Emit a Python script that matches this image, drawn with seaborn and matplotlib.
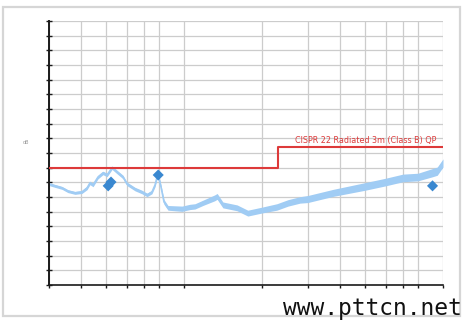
import numpy as np
import pandas as pd
import matplotlib
matplotlib.use("Agg")
import matplotlib.pyplot as plt
from matplotlib.patches import Rectangle
import seaborn as sns

# ---- data ----
freq_mhz = [30, 31.6, 33.7, 35.5, 37.8, 40.2, 42.1, 43.2, 44.4, 46.4, 48.5, 50.3,
            52.6, 55, 58, 60, 64.5, 68.6, 71.8, 75, 77.1, 79.1, 81.3, 83.5, 86.5,
            98, 105, 110, 118, 131, 134, 141, 160, 176, 201, 228, 252, 280, 300,
            376, 500, 600, 700, 800, 911, 950, 1000]
level_dbuv = [34.4, 33.8, 33.1, 32.0, 31.4, 31.7, 33.1, 34.8, 34.1, 36.8, 38.2, 37.5,
              40.0, 38.5, 36.8, 34.5, 32.7, 31.7, 30.7, 31.7, 34.1, 38.0, 33.4, 28.3, 26.3,
              26.0, 26.6, 26.8, 28.0, 29.7, 30.2, 27.3, 26.3, 24.5, 25.6, 26.6, 28.0, 29.0, 29.3,
              31.4, 33.6, 35.1, 36.5, 36.8, 38.3, 38.8, 41.6]
spread_db = [0.5, 0.5, 0.5, 0.5, 0.5, 0.5, 0.6, 0.6, 0.6, 0.6, 0.6, 0.6,
             0.6, 0.6, 0.6, 0.6, 0.6, 0.6, 0.6, 0.6, 0.6, 0.6, 0.7, 0.8, 0.8,
             0.9, 0.9, 0.9, 0.9, 1.0, 1.0, 1.0, 1.0, 1.0, 1.0, 1.1, 1.1, 1.1, 1.2,
             1.2, 1.3, 1.3, 1.3, 1.3, 1.4, 1.4, 1.4]

limit_freq = [30, 230, 1000]
limit_level = [40, 47, 47]
limit_label = "CISPR 22 Radiated 3m (Class B) QP"

peak_freq = [50.8, 52.1, 79.3, 911]
peak_level = [33.8, 35.1, 37.5, 33.8]

x_ticks = [30, 40, 50, 60, 70, 80, 100, 200, 300, 400, 500, 600, 700, 800, 1000]
y_ticks = list(range(0, 95, 5))

trace = pd.DataFrame({"freq": freq_mhz, "level": level_dbuv, "spread": spread_db})
limit = pd.DataFrame({"freq": limit_freq, "level": limit_level})
peaks = pd.DataFrame({"freq": peak_freq, "level": peak_level})

# ---- figure ----
sns.set_theme(style="white")
W, H = 468, 325
fig = plt.figure(figsize=(W / 100, H / 100), dpi=100)
fig.patch.set_facecolor("white")

# light frame around the chart
fig.patches.append(Rectangle((3 / W, 1 - 316 / H), (460 - 3) / W, (316 - 7) / H,
                             transform=fig.transFigure, fill=False,
                             edgecolor="#d6d6d6", linewidth=1.6, zorder=0))

ax = fig.add_axes([49 / W, 1 - 285 / H, (443 - 49) / W, (285 - 21) / H])
ax.set_facecolor("white")
ax.set_xscale("log")
ax.set_xlim(30, 1000)
ax.set_ylim(0, 90)
ax.set_xticks(x_ticks)
ax.set_yticks(y_ticks)
ax.xaxis.set_minor_locator(matplotlib.ticker.NullLocator())
ax.set_xticklabels([])
ax.set_yticklabels([])
ax.grid(True, color="#cccccc", linewidth=0.9, zorder=0)
ax.set_axisbelow(True)

for s in ["top", "right"]:
    ax.spines[s].set_visible(False)
ax.spines["left"].set_color("#1a1a1a")
ax.spines["left"].set_linewidth(1.4)
ax.spines["bottom"].set_color("#1a1a1a")
ax.spines["bottom"].set_linewidth(1.2)
ax.tick_params(axis="y", direction="inout", length=4, width=1.0, color="#1a1a1a", left=True)
ax.tick_params(axis="x", direction="out", length=2.5, width=1.0, color="#1a1a1a", bottom=True)

# measured trace (noise band + centre line)
trace_color = "#a0ccf4"
ax.fill_between(trace["freq"], trace["level"] - trace["spread"],
                trace["level"] + trace["spread"], color=trace_color,
                linewidth=0, zorder=2)
sns.lineplot(data=trace, x="freq", y="level", ax=ax, color=trace_color,
             linewidth=1.2, estimator=None, sort=False, zorder=2)

# limit line
sns.lineplot(data=limit, x="freq", y="level", ax=ax, color="#dd3a3a",
             linewidth=1.5, estimator=None, sort=False, drawstyle="steps-post", zorder=3)
ax.text(942, 49.2, limit_label, color="#dd3a3a", fontsize=5.8, ha="right", va="center",
        family="DejaVu Sans")

# peak markers
sns.scatterplot(data=peaks, x="freq", y="level", ax=ax, marker="D", s=32,
                color="#3a88d0", edgecolor="none", zorder=4)

ax.set_xlabel("")
ax.set_ylabel("")

# tiny y-axis label
fig.text(26 / W, 1 - 143 / H, "dB", fontsize=3.5, color="#999999", ha="center", va="center")

# watermark
fig.text(283 / W, 1 - 315 / H, "www.pttcn.net", family="DejaVu Sans Mono",
         fontsize=16.5, color="#111111", ha="left", va="baseline")

fig.savefig("out.png", dpi=100, facecolor="white")
